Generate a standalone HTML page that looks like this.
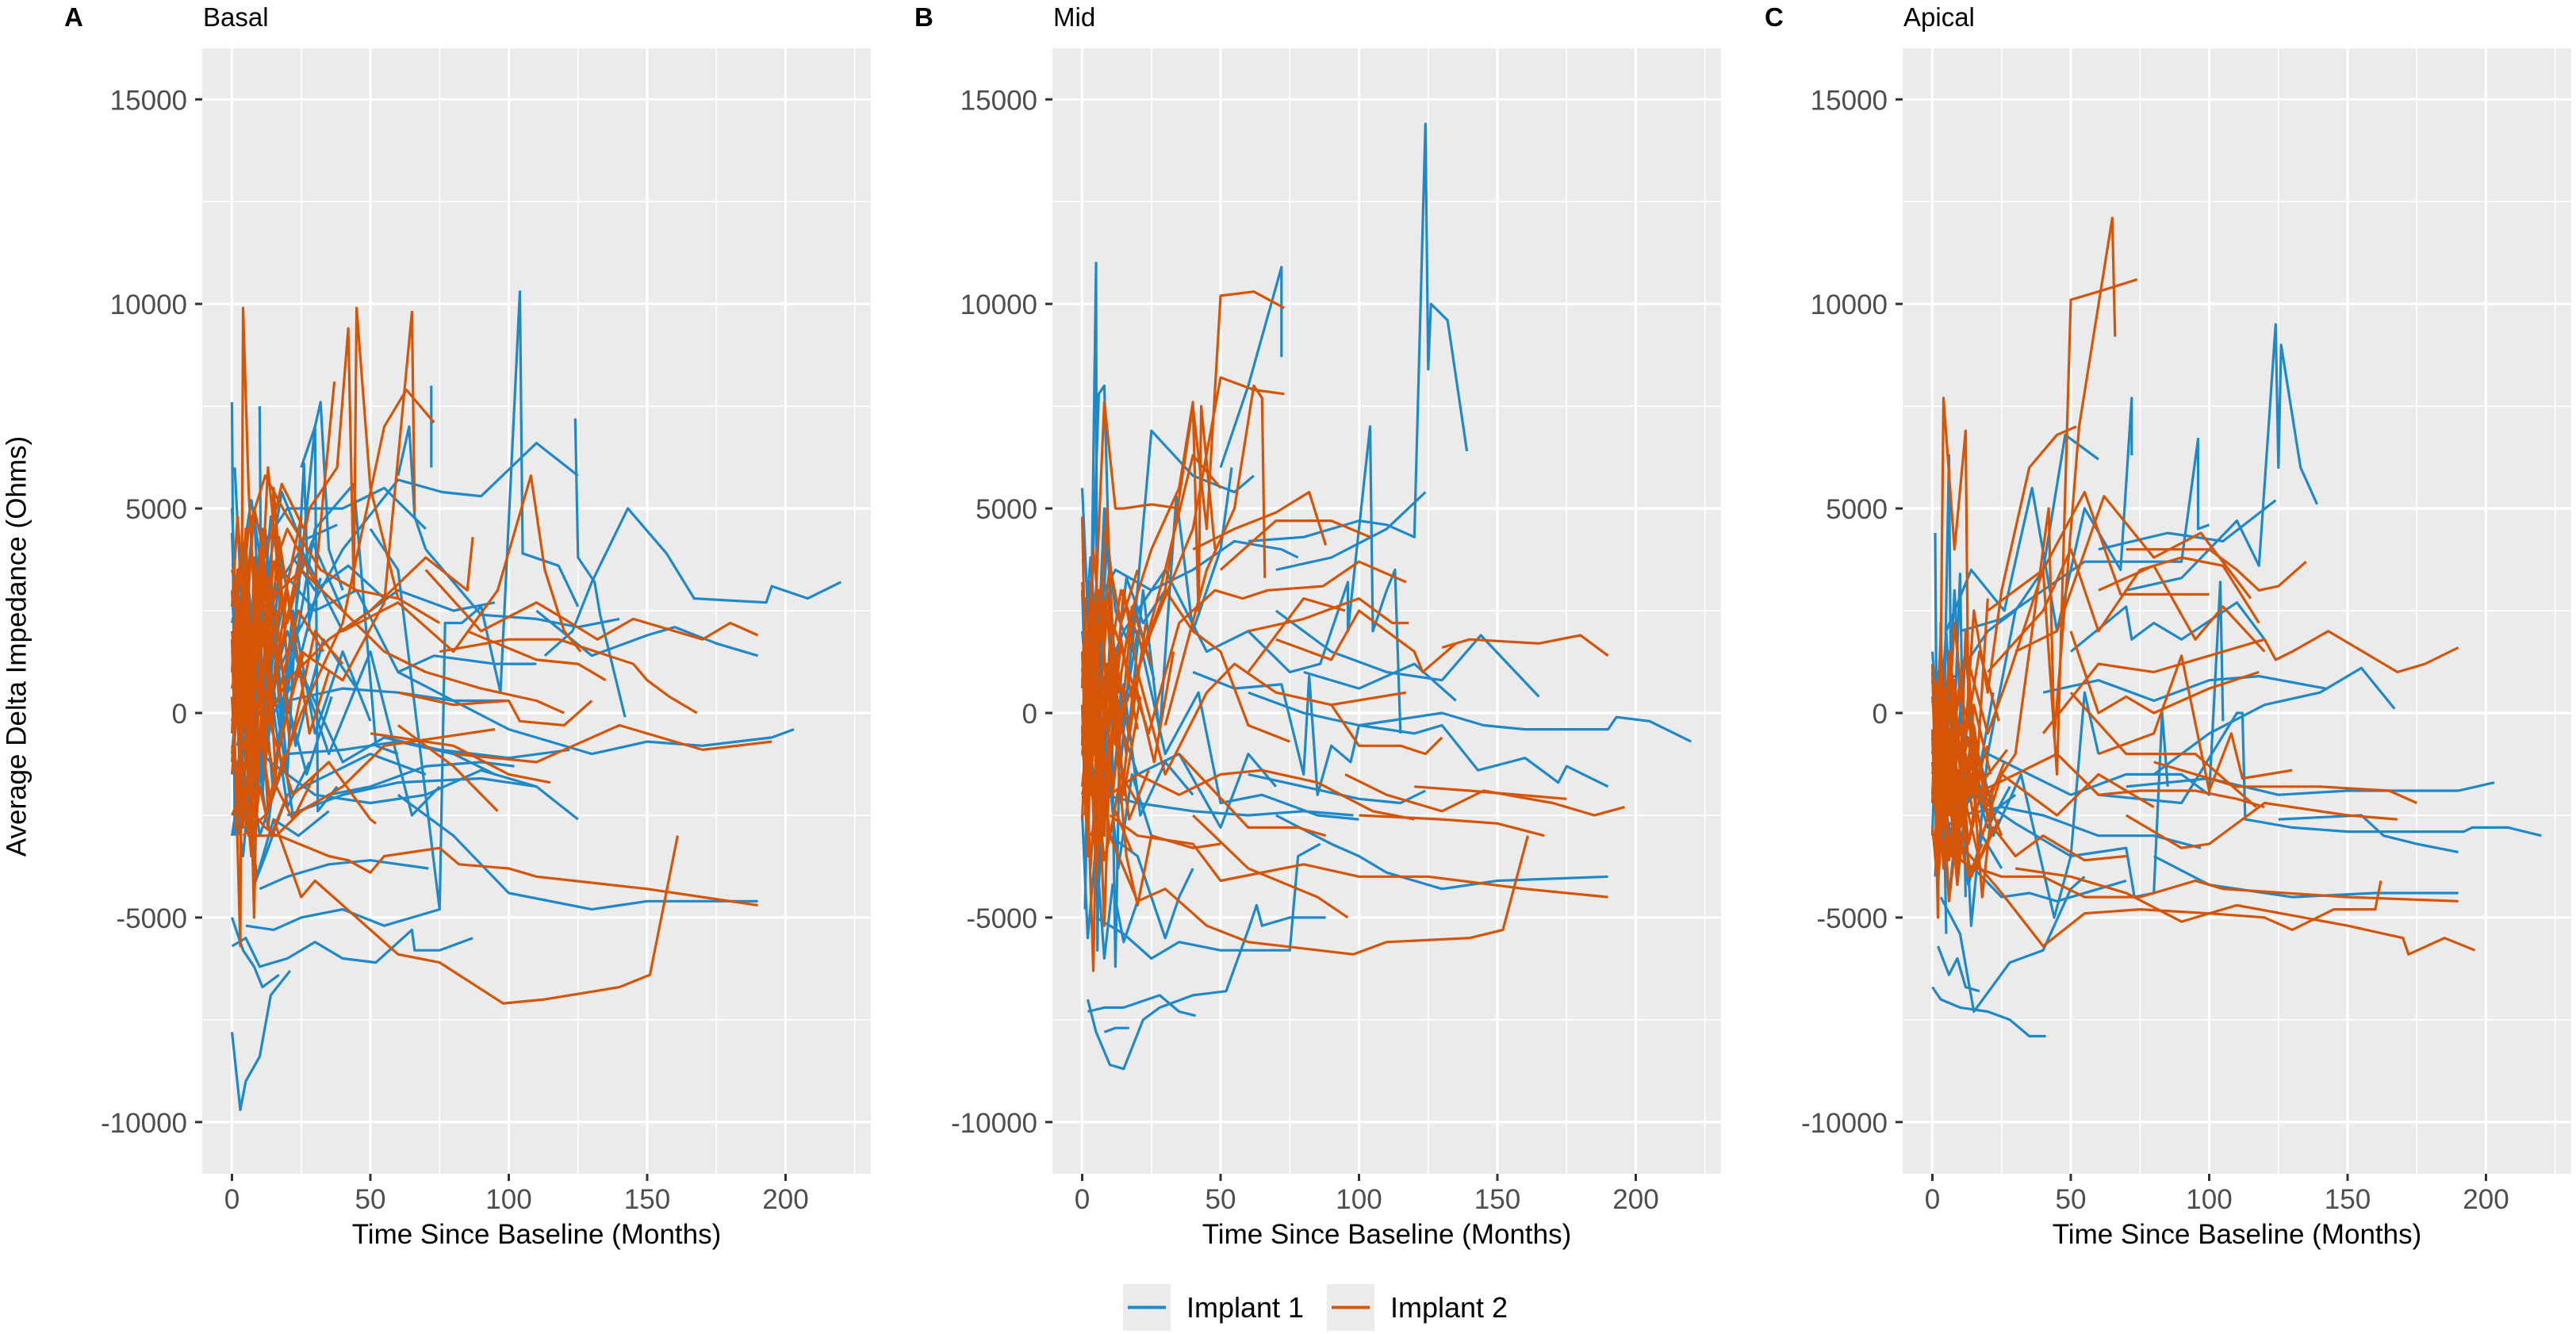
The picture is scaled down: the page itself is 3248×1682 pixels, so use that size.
<!DOCTYPE html>
<html><head><meta charset="utf-8">
<style>
html,body{margin:0;padding:0;background:#fff;}
svg{display:block;font-family:"Liberation Sans",Arial,sans-serif;}
</style></head>
<body>
<svg id="chart" width="3248" height="1682" viewBox="0 0 3248 1682" xmlns="http://www.w3.org/2000/svg">
<g id="panels"></g>
<text x="21" y="815" transform="rotate(-90 21 815)" text-anchor="middle" dominant-baseline="central" font-size="35" fill="#000">Average Delta Impedance (Ohms)</text>
<g>
<rect x="1416" y="1619" width="60" height="59" fill="#EBEBEB"/>
<line x1="1422" y1="1648.5" x2="1470" y2="1648.5" stroke="#1F88C8" stroke-width="4"/>
<text x="1496" y="1661" font-size="36" fill="#000">Implant 1</text>
<rect x="1673" y="1619" width="60" height="59" fill="#EBEBEB"/>
<line x1="1679" y1="1648.5" x2="1727" y2="1648.5" stroke="#D55406" stroke-width="4"/>
<text x="1753" y="1661" font-size="36" fill="#000">Implant 2</text>
</g>
</svg>
<script>
// ---- data ----
const panelLetters = ["A","B","C"];
const panelTitles = ["Basal","Mid","Apical"];
const xTicks = [0,50,100,150,200];
const xMinor = [25,75,125,175,225];
const yTicks = [-10000,-5000,0,5000,10000,15000];
const yMinor = [-7500,-2500,2500,7500,12500];

const basalImplant1 = [
[0,4400,3,-2000,6,3000,10,1000],
[1,6000,4,2000,8,5000,12,-1000,16,2500],
[2,-3000,5,1000,9,-2500,14,3500,20,-1500,26,6100,28,2000],
[0,-1000,4,2500,8,-1200,12,4500,18,-500,24,3000,30,7000,31,-2400,38,-1800],
[1,500,6,-1500,10,1800,15,-2000,22,2500,30,-500,40,1500,50,-200],
[3,2000,8,-4200,12,-3500,20,-2000,35,-1500,50,-1000,70,-1500],
[2,-1500,10,4000,20,5000,40,5000,55,5500,70,4500],
[5,1000,15,3000,25,4000,40,2000,60,3000,80,2500,95,2700],
[0,0,10,-500,25,1000,40,-1200,55,-600,75,-900,100,-1100,122,-900],
[4,-500,12,2000,22,-2500,35,-2000,50,-1800,70,-1300,90,-1200,102,-1300],
[0,1500,8,-1000,20,2000,35,-1000,50,1500,65,-2500,75,-1800],
[2,3000,15,-1500,30,4500,44,5600,52,-800,60,-1000],
[1,-2500,9,1500,18,3500,30,2500,45,3000,60,1000,73,1400,95,1200,110,1200],
[3,-500,14,-1200,30,-2000,50,-2200,70,-2000,90,-1400,110,-1800,125,-2600],
[1,200,20,300,40,600,60,500,80,300,100,300],
[0,-1500,20,1500,40,4000,60,5700,76,5400,90,5300,110,6600,125,5800],
[2,1000,10,-3000,20,-1000,40,-900,60,-700,80,-1000,95,-1500],
[0,7600,1,-3000],
[10,7500,11,-2000,15,2000],
[25,6000,30,7000,32,7600,35,4000,40,3000],
[60,5800,64,7000,66,4800,70,4000],
[72,8000,72,6000],
[50,4500,60,3500,75,-4800,77,2200,83,2200,90,2600,97,500,104,10300,105,3900,118,3600,125,2600],
[124,7200,125,3800,131,3200,133,2400,142,-100],
[113,1400,123,2000,130,3200,143,5000,157,3900,167,2800,193,2700,195,3100,208,2800,220,3200],
[60,1000,80,300,100,-400,130,-1000,150,-700,170,-800,195,-600,203,-400],
[110,2500,130,1400,150,1900,160,2100,175,1700,190,1400],
[0,-7800,3,-9700,5,-9000,10,-8400,14,-6900,21,-6300],
[0,-5700,5,-5500,10,-6200,20,-6000,30,-5600,40,-6000,52,-6100,65,-5300,66,-5800,75,-5800,87,-5500],
[5,-5200,15,-5300,25,-5000,40,-4800,55,-5200,75,-4800],
[10,-4300,20,-4000,35,-3700,50,-3600,71,-3800],
[0,-5000,4,-5800,8,-6200,11,-6700,17,-6400],
[60,-2000,80,-3000,100,-4400,130,-4800,150,-4600,190,-4600],
[20,-2500,40,-2000,60,-1700,90,-1600,110,-1800],
[70,4000,90,2400,110,2300,125,2100,140,2300],
[0,3000,3,-1000,7,2200,12,300,18,3800,24,1200,32,3300],
[1,-2000,4,-3500,8,-500,13,-2800,19,500,27,-1500,36,400],
[0,2200,5,3800,9,800,14,4800,21,2700,29,4200,40,2500],
[2,-800,6,1200,11,-1800,17,1500,23,-800,33,1800,45,600],
[0,5000,2,1500,5,4200,9,-1500,13,1000,20,-2300,28,-1200],
[1,1200,5,-2500,9,3500,14,1200,22,3800,30,3000,42,3600,55,2800],
[3,3500,7,5200,12,3000,18,5400,25,4200,38,4600],
[0,-3000,4,-1200,9,-4000,15,-2600,24,-3000,35,-2400]
];
const basalImplant2 = [
[0,1800,3,-5700,4,9900,6,5500,9,1500],
[0,-500,3,4000,6,-2000,9,3000,12,-1500,15,5500,20,1200],
[1,500,5,3500,8,-5000,10,2000,13,6000,18,2500,25,4800],
[0,-1500,4,2000,7,-1000,11,4500,16,-1800,22,-2600,30,-1500],
[2,2500,6,-800,10,3800,14,200,20,3000,28,-500,35,1000],
[0,-200,5,1500,12,3000,20,4500,30,3200,37,8100],
[1,1000,6,4500,12,5800,20,4800,32,3500,45,3000,60,2800,75,2200],
[3,-1000,10,500,22,-2000,35,-1200,50,-2600,52,-2700],
[0,-2500,8,-1200,16,1000,28,5000,38,6000,42,9400,44,3000,45,9900,50,5500,60,2800],
[1,0,10,2500,25,3500,40,2500,55,1500,70,1000,90,600,110,300,120,0],
[2,-2000,12,-2800,16,-3000,25,-2400,40,-1800,55,-800,75,-600,95,-400],
[0,3500,8,1000,15,-1500,25,1500,40,800,55,2700,65,9800,66,4900],
[4,-3000,12,-2500,25,0,40,2200,55,7000,63,7900,73,7100],
[2,500,10,-500,20,800,35,1800,50,2500,70,3800,85,3000,87,4300],
[0,-800,6,-3000,17,-3000,35,-3500,42,-3600,50,-3900,55,-3500,75,-3300,82,-3700,100,-3800,110,-4000,150,-4300,190,-4700],
[15,-2600,25,-4500,30,-4100,45,-5000,60,-5900,75,-6100,98,-7100,113,-7000,140,-6700,151,-6400,161,-3000],
[40,2000,60,2700,80,1500,96,3000,108,5800,113,3500,120,2000,126,1500],
[70,3500,90,2000,110,2700,120,2300,132,1800,145,2300,170,1800,180,2200,190,1900],
[50,-500,80,-800,100,-1500,115,-1700],
[60,500,80,200,100,300,104,-200,120,-300,130,300],
[80,-1000,110,-1200,130,-600,140,-300,160,-700,170,-900,195,-700],
[75,1500,100,1800,118,1800,145,1200,150,800,158,400,168,0],
[60,-300,80,-1300,96,-2400],
[85,2000,110,1300,125,1200,135,800],
[0,1000,2,3500,4,-500,6,2800,8,-1500,11,2200,14,-300,18,3500],
[0,-1200,2,800,4,-2800,6,1500,9,-2000,12,1800,16,3000],
[1,2800,3,-1500,5,4500,7,300,10,4000,13,1200,17,4300,22,2000],
[0,400,2,-2500,4,1800,7,-3200,10,-400,14,-2200,19,-1000],
[1,-300,3,2600,6,-1000,8,3800,11,700,15,3700,20,2200,26,3800],
[0,2000,3,-200,5,3200,8,1000,12,3500,17,500,24,2500,33,1500],
[2,-1800,4,1000,7,-2400,10,1200,13,-2400,18,-500,26,1500],
[0,600,3,1800,6,-400,9,1500,12,300,16,2500,21,-800,30,2000,40,1200],
[1,-2800,4,-1200,7,-3500,10,-1800,14,-3000,20,-2000],
[0,2600,2,4800,5,2000,8,5000,12,3800,18,5600,26,4500]
];
const midImplant1 = [
[0,5500,3,1000,5,11000,5.5,-5800,7,2000],
[1,-4800,3,2000,6,7800,8,8000,10,3000,12,-6200,14,1000],
[0,2000,4,-1000,8,5000,12,2500,18,1500,25,6900,40,5800,55,5400,62,5800],
[2,-7000,5,-7800,10,-8600,15,-8700,22,-7500,28,-7200,40,-6900,52,-6800,60,-5300,63,-4700,65,-5200,75,-5000,88,-5000],
[2,-7300,8,-7200,15,-7200,28,-6900,35,-7300,41,-7400],
[8,-7800,12,-7700,17,-7700],
[5,-5000,15,-5400,25,-6000,35,-5600,50,-5800,62,-5800,75,-5800,78,-3500,86,-3200],
[10,-3000,20,-3500,30,-5500,35,-4500,40,-3800],
[1,0,6,-2500,10,1500,16,-1000,22,3000,28,-500,34,5300,40,2000,50,4000,54,6000],
[3,1000,10,-2000,20,2000,30,-1000,42,500,50,-2200,65,-2000,85,-2500,100,-2600],
[0,-1000,8,-2000,20,-2200,40,-2400,60,-2500,80,-2400,98,-2500],
[4,2500,12,3500,25,3000,40,3500,55,4200,72,4000,78,3800],
[2,-1500,10,500,20,-1500,35,-1000,50,-2800,60,-1000,70,-1800],
[6,500,15,2000,30,3500,45,1500,60,2000,75,1000,86,1200,96,3200,96,2000,104,7000,105,2000,110,3000,113,3500,115,-500],
[40,1000,55,600,72,700,80,-1500,82,900,85,-2000,90,-800,97,-1200,100,-300,120,-100,130,0,145,-300,160,-400,190,-400,193,-100,205,-200,220,-700],
[60,500,80,0,100,-300,120,-500,130,-300,143,-1400,160,-1100,172,-1700,175,-1300,190,-1800],
[70,2500,90,1500,110,1000,130,800,144,1900,165,400],
[60,4200,80,4300,100,4700,110,4600,120,4300,124,14400,125,8400,126,10000,132,9600,139,6400],
[70,3500,90,3800,110,4500,124,5400],
[50,6000,60,8000,72,10900,72,8700],
[70,-2500,90,-3200,100,-3500,110,-3900,125,-4200,130,-4300,150,-4100,190,-4000],
[60,-1500,80,-1800,100,-2100,115,-2200,124,-1900],
[80,1000,100,600,120,1200,135,300],
[0,3000,2,-1500,4,2500,7,-3000,10,1800,14,-1200,19,2600,26,800],
[1,-3500,3,-500,6,-4200,9,-1000,13,-3800,18,-1500,25,-3000],
[0,1000,3,3800,6,800,9,4200,12,1000,16,3300,22,2200,30,3000],
[1,-200,4,-2200,7,1200,11,-1800,15,700,21,-2500,30,-1200,40,-2000],
[0,-2500,2,-5500,5,-3200,8,-6000,11,-4200,15,-5600,20,-4600]
];
const midImplant2 = [
[0,4800,2,-2000,4,-6300,6,500],
[0,800,5,3000,8,7600,12,5000,15,5000,25,5100,35,5000],
[1,-1500,5,1000,9,5000,13,-1000,18,2500,25,4000,35,5500,40,7600,42,2500,43,7500,48,4000],
[0,-500,4,2000,8,-5200,10,-1000,15,3000,20,1000,30,3500,40,6300,50,5500],
[2,1500,6,-2000,10,1000,16,-3500,20,-4700,25,-3000,40,-3300,50,-3200],
[0,-2000,8,500,14,3000,22,1500,30,3000,40,2000,50,1500,60,-300,75,-700],
[1,200,7,-1500,12,-500,20,1000,30,-1500,45,500,55,1200,70,500,90,200,117,500],
[3,-3000,10,-2000,20,-1500,35,-2000,50,-1500,65,-1400,85,-1700,105,-2400,120,-2600],
[0,-1000,6,3000,12,2000,24,-500,35,2200,48,3000,58,2800,67,3000,87,3100,100,3700,117,3200],
[2,2000,5,-1000,9,2500,14,-2200,19,800,26,-1200,33,1500],
[1,-2500,4,500,8,-3000,11,1800,17,-600,23,2200],
[20,1000,30,3000,40,7500,45,4500,50,10200,62,10300,73,9900],
[25,2000,40,4500,50,8200,62,7900,73,7800],
[30,-300,45,3500,55,5000,62,8000,65,7700,66,3300],
[40,4000,55,4500,70,4900,82,5400,88,4100],
[50,3500,70,4700,90,4700,104,4300],
[60,2000,80,2300,100,2800,112,2200,118,2200],
[70,1800,90,1300,100,2500,110,2000,120,1500,123,1000,135,1700],
[90,200,100,-800,115,-800,124,-1000,130,-600],
[95,-1500,110,-2000,130,-2400,145,-1900,170,-2200,185,-2500,196,-2300],
[100,-2500,130,-2600,150,-2700,167,-3000],
[120,-1800,140,-1900,175,-2100],
[130,1600,140,1800,165,1700,180,1900,190,1400],
[10,-2500,20,-3000,40,-3200,50,-4100,80,-3700,100,-4000,125,-4000,160,-4300,190,-4500],
[10,-3000,20,-4600,30,-4300,45,-5200,60,-5600,98,-5900,110,-5600,140,-5500,152,-5300,161,-3000],
[40,-2500,60,-3800,85,-4500,96,-5000],
[35,-1000,60,-2800,78,-2800,88,-3000],
[60,1000,80,2800,95,2500],
[0,200,1,-2200,2,1800,3,-1000,5,2600,7,-1500,9,1200,12,-800],
[0,-800,1,1500,2,-2800,4,500,6,-3200,8,800,11,-2000,15,600],
[0,1500,1,-500,3,3200,5,-300,7,2800,10,-1200,14,1800,20,-400],
[0,-300,2,-3500,3,-700,5,-4000,7,-1200,10,-3000,14,-1500,20,-2200],
[1,2200,2,400,4,2400,6,-600,9,3000,13,500,18,2600,25,1200],
[0,600,1,2800,3,-1500,5,1200,8,-2200,11,1000,16,-1000],
[0,-1800,2,-400,4,-2200,6,200,9,-1800,12,-200,17,-2600,24,-1400],
[1,1200,3,-2000,5,600,8,-2600,11,1500,15,-2000,21,400],
[0,-2600,1,-800,3,-3800,5,-1600,8,-3600,12,-2400,18,-3400],
[0,3200,2,1200,4,4000,7,1800,10,3600,14,2200,20,3500]
];
const apicalImplant1 = [
[1,4400,2,-4800,3,2200,5,-5400],
[4,-1000,6,6300,7,-2000,10,3400,12,-4500],
[0,1500,4,-2500,8,3000,14,-5200,20,-1000,30,2500],
[0,-6700,3,-7000,10,-7200,20,-7300,28,-7500,35,-7900,41,-7900],
[2,-5700,6,-6400,9,-6000,12,-6700,17,-6800],
[3,-4500,10,-5400,15,-7300,28,-6100,40,-5800,50,-4300,55,-4000],
[1,-1000,8,-3500,15,-3800,25,-4500,35,-4400,45,-4600,60,-4300,70,-4100],
[0,500,10,1000,20,2000,30,2500,40,3500,48,6800,60,6200],
[2,-2000,12,-500,22,-3000,32,-1500,44,-5000,50,-3500,55,500,60,-1000],
[5,2000,14,3500,26,2500,36,5500,45,2000,55,5000,68,3500,72,7700,72,6300],
[1,0,10,-2500,25,-2300,40,-2500,60,-3000,80,-3000,97,-3300],
[3,-3000,15,-2000,30,-2700,50,-3500,70,-3300,73,-4500,80,-4400,83,0,85,-1800],
[10,2000,25,2300,40,3000,55,3700,75,3700,90,3700,96,6700,96,4500,100,4600],
[20,-1000,35,-1500,50,-2000,70,-1500,90,-1500,100,-2000,104,3200,105,-200],
[50,1500,70,2600,72,1800,80,2200,90,1800,110,2700,120,1800],
[70,3000,90,3300,110,4700,118,3600,124,9500,125,6000,126,9000,133,6000,139,5100],
[60,4000,85,4400,105,4200,124,5200],
[40,500,60,800,80,300,100,800,118,900,142,600],
[80,-1500,100,-500,120,200,140,500,155,1100,167,100],
[60,-2000,90,-2200,110,0,112,0,113,-2600,130,-2800,150,-2900,165,-2900,192,-2900,195,-2800,208,-2800,220,-3000],
[70,-1800,100,-1600,125,-2000,150,-1900,190,-1900,203,-1700],
[80,-3500,100,-4200,130,-4500,160,-4400,190,-4400],
[125,-2600,155,-2500,163,-3000,175,-3200,190,-3400],
[0,-2000,2,1000,4,-3000,7,-500,10,-3500,14,-1500,20,-2800,28,-1800],
[1,-4000,3,-1500,6,-4500,9,-2500,13,-4200,18,-3000,25,-3800],
[0,800,2,-1000,5,2000,8,-1500,12,1500,16,-1800,22,500],
[0,-3000,1,-600,3,-2600,6,-1000,10,-2800,15,-600,22,-2400,30,-2000]
];
const apicalImplant2 = [
[0,1200,2,-5000,4,7700,8,4000,12,6900,13,0,16,-2000],
[0,-500,3,-3000,6,1500,9,-4000,12,2000,16,-1500,20,2800],
[1,800,5,-2000,8,-500,10,-3500,14,-1000,18,-4500,22,-2000],
[0,-1500,6,1000,10,-2500,15,2500,20,500,25,3000,30,4500,35,6000,45,6800,52,7000],
[1,-800,7,-3500,12,-1000,18,-3000,25,-1500,35,-2000,45,-2500,60,-1500,80,-2300],
[2,-2500,8,-1500,14,-4000,22,-2800,30,-3500,40,-3000,55,-3600,70,-3500],
[0,-1000,3,800,6,-2500,9,-200,13,-3200,18,-1200],
[1,0,4,-1800,7,1000,11,-2000,15,-300,20,-2600],
[0,300,5,-1200,12,1500,20,-500,28,1000,40,3500,45,-1500,50,10100,60,10300,74,10600],
[3,-2000,10,500,20,-2000,30,-1000,42,5000,44,-600,53,7000,65,12100,66,9200],
[5,-1000,15,-2000,30,-1500,45,-1000,60,-2000,75,-1900,95,-1900,110,-2100,120,-2300],
[2,-3000,12,-3700,25,-4000,40,-4000,55,-4500,75,-4500,95,-4100,105,-4300,150,-4500,190,-4600],
[10,-3200,25,-4400,40,-5700,55,-4900,75,-4800,100,-4900,120,-5000,130,-5300,145,-4800,160,-4800,162,-4100],
[30,-3800,50,-4000,70,-4400,90,-5100,110,-4700,150,-5200,170,-5500,172,-5900,185,-5500,196,-5800],
[20,2500,40,3500,55,5400,68,2900,100,2900],
[30,1500,45,2000,62,5300,80,3800,97,4400,115,2800],
[20,1000,40,2500,50,4000,60,2000,75,3500,90,3800,105,3600,118,2200],
[40,-500,60,1200,80,1000,100,1400,120,1800,124,1300,130,1500,143,2000,168,1000,178,1200,190,1600],
[50,2000,60,0,70,400,80,0,100,600,118,1000],
[60,-1000,80,-500,90,1400,100,-1900,108,-500,112,-1600,130,-1400],
[70,-2500,90,-3300,100,-3200,120,-2200,150,-2500,168,-2600],
[80,-1200,110,-1800,140,-1800,165,-1900,175,-2200],
[70,4000,90,4000,100,4000,110,3500,118,3000,125,3100,135,3700],
[60,3000,80,3600,95,1800,105,2600,120,1500],
[50,500,70,-1000,95,-1000,117,-2300],
[0,-600,1,-2400,2,200,4,-2800,6,-400,8,-3000,11,-1000,15,-2600],
[0,-2200,1,300,3,-1800,5,600,7,-2400,10,-300,14,-2000,20,-800],
[0,400,2,-1500,3,1200,5,-2200,8,800,11,-2600,15,200,21,-1500],
[1,-3200,2,-1200,4,-3800,6,-1800,9,-4200,12,-2200,17,-3600,24,-2600],
[0,-1200,2,-3200,4,-800,6,-3600,9,-1400,13,-3200,18,-1800,25,-3000],
[0,1000,1,-800,3,1800,5,-1200,8,2200,12,-600,17,1500,24,-200],
[1,-1800,3,-200,5,-2600,7,-1000,10,-2800,14,-1200,19,-2400,26,-1200],
[0,-2800,2,-4200,4,-2200,6,-4600,9,-2800,13,-4000,18,-3200],
[0,-400,1,-1600,2,-600,4,-2000,6,-800,9,-1800,13,-600,19,-1600,27,-900]
];
const implant1Series = [basalImplant1, midImplant1, apicalImplant1];
const implant2Series = [basalImplant2, midImplant2, apicalImplant2];

// ---- layout ----
const NS = "http://www.w3.org/2000/svg";
const panelLeft = [255, 1327, 2399];
const panelW = 843, panelTop = 61, panelBottom = 1480;
const xZeroOffset = 37.5, pxPerMonth = 3.49;
const yZero = 899, pxPerUnit = 257.9 / 5000;
const BLUE = "#1F88C8", ORANGE = "#D55406";

function xScale(p, t){ return panelLeft[p] + xZeroOffset + t * pxPerMonth; }
function yScale(v){ return yZero - v * pxPerUnit; }
function mk(tag, attrs, parent){
  const e = document.createElementNS(NS, tag);
  for (const k in attrs) e.setAttribute(k, attrs[k]);
  parent.appendChild(e);
  return e;
}
const root = document.getElementById("panels");

for (let p = 0; p < 3; p++){
  const g = mk("g", {}, root);
  
  
  const L = panelLeft[p], R = L + panelW;
  const bg = mk("rect", {x:L, y:panelTop, width:panelW, height:panelBottom-panelTop, fill:"#EBEBEB"}, g);
  
  
  xMinor.forEach(t => {
    const x = xScale(p,t);
    if (x < R) {
      const l = mk("line", {x1:x, x2:x, y1:panelTop, y2:panelBottom, stroke:"#fff", "stroke-width":1.6}, g);
      
      
    }
  });
  yMinor.forEach(v => {
    const y = yScale(v);
    if (y > panelTop && y < panelBottom) {
      const l = mk("line", {x1:L, x2:R, y1:y, y2:y, stroke:"#fff", "stroke-width":1.6}, g);
      
      
    }
  });
  xTicks.forEach(t => {
    const x = xScale(p,t);
    const l = mk("line", {x1:x, x2:x, y1:panelTop, y2:panelBottom, stroke:"#fff", "stroke-width":3.2}, g);
    
    
    const tk = mk("line", {x1:x, x2:x, y1:panelBottom, y2:panelBottom+9, stroke:"#333", "stroke-width":3}, g);
    
    
    const tx = mk("text", {x:x, y:panelBottom+44, "text-anchor":"middle", "font-size":35, fill:"#4D4D4D"}, g);
    tx.textContent = String(t);
    
    
  });
  yTicks.forEach(v => {
    const y = yScale(v);
    const l = mk("line", {x1:L, x2:R, y1:y, y2:y, stroke:"#fff", "stroke-width":3.2}, g);
    
    
    const tk = mk("line", {x1:L-9, x2:L, y1:y, y2:y, stroke:"#333", "stroke-width":3}, g);
    
    
    const tx = mk("text", {x:L-19, y:y+13, "text-anchor":"end", "font-size":35, fill:"#4D4D4D"}, g);
    tx.textContent = String(v);
    
    
  });
  const drawSet = (set, color, name) => {
    set.forEach(s => {
      let d = "";
      for (let i = 0; i < s.length; i += 2) {
        d += (i ? "L" : "M") + xScale(p, s[i]).toFixed(1) + " " + yScale(s[i+1]).toFixed(1);
      }
      const path = mk("path", {d:d, fill:"none", stroke:color, "stroke-width":3.2, "stroke-linejoin":"round"}, g);
      
      
    });
  };
  drawSet(implant1Series[p], BLUE, 'implant-1-line');
  drawSet(implant2Series[p], ORANGE, 'implant-2-line');
  const letter = mk("text", {x:L-174, y:33, "font-size":33, "font-weight":"bold", fill:"#000"}, g);
  letter.textContent = panelLetters[p];
  
  
  const title = mk("text", {x:L+1, y:33, "font-size":33, fill:"#000"}, g);
  title.textContent = panelTitles[p];
  
  
  const xt = mk("text", {x:L + panelW/2, y:1568, "text-anchor":"middle", "font-size":35, fill:"#000"}, g);
  xt.textContent = "Time Since Baseline (Months)";
  
  
}
</script>
</body></html>
